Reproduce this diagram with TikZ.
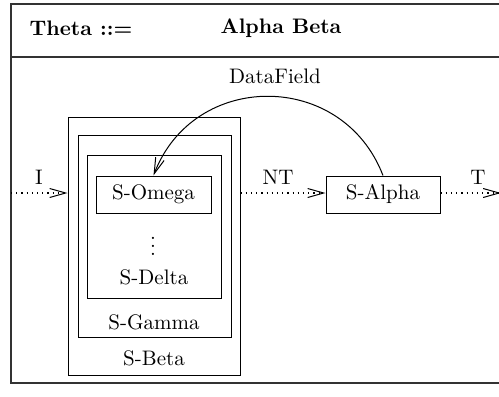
\documentclass[tikz,border=0pt]{standalone}
\usetikzlibrary{arrows.meta}
\begin{document}
\begin{tikzpicture}[x=0.5pt,y=-0.5pt,
  font=\fontsize{10.5}{12}\selectfont,
  box/.style={draw, line width=0.5pt, inner sep=0pt, anchor=center},
  lbl/.style={inner sep=0pt, anchor=center},
  flow/.style={dotted, line width=0.6pt, -{Straight Barb[length=8pt,width=4.5pt,line width=0.5pt]}},
  link/.style={line width=0.5pt, -{Straight Barb[length=8pt,width=4.5pt,line width=0.5pt]}}]
\useasboundingbox (0,0) rectangle (499,397);
% frame
\draw[line width=0.6pt, draw=black!80] (11,4) rectangle (510,383);
\draw[line width=0.6pt, draw=black!80] (11,57) -- (510,57);
\node[lbl, font=\fontsize{10.5}{12}\selectfont\bfseries] (theta) at (81,28) {Theta ::=};
\node[lbl, font=\fontsize{10.5}{12}\selectfont\bfseries] (ab) at (281,28) {Alpha Beta};
% boxes
\node[box, minimum width=86pt, minimum height=129pt] (beta) at (154,246) {};
\node[box, minimum width=76.5pt, minimum height=101pt] (gamma) at (154.5,236) {};
\node[box, minimum width=67pt, minimum height=71.5pt] (delta) at (154,226.5) {};
\node[box, minimum width=57.5pt, minimum height=18.5pt] (omega) at (153.5,194.5) {S-Omega};
\node[box, minimum width=57pt, minimum height=18.5pt] (alpha) at (383,194.5) {S-Alpha};
\node[lbl] (betal) at (154,358) {S-Beta};
\node[lbl] (gammal) at (154,322) {S-Gamma};
\node[lbl] (deltal) at (154,277) {S-Delta};
\node[lbl] (dots) at (153,240) {$\vdots$};
% labels
\node[lbl] (datafield) at (275,76) {DataField};
\node[lbl] (il) at (39,177) {I};
\node[lbl] (ntl) at (278,177) {NT};
\node[lbl] (tl) at (478,177) {T};
% connectors
\coordinate (iin) at (11,193);
\coordinate (tout) at (501,193);
\draw[flow] (iin) -- (beta.west |- iin);
\draw[flow] (beta.east |- iin) -- (alpha.west |- iin);
\draw[flow] (alpha.east |- tout) -- (tout);
\draw[link] (alpha.north) .. controls +(-40.4,-105.3) and +(40.4,-105.3) .. (omega.north);
\end{tikzpicture}
\end{document}
